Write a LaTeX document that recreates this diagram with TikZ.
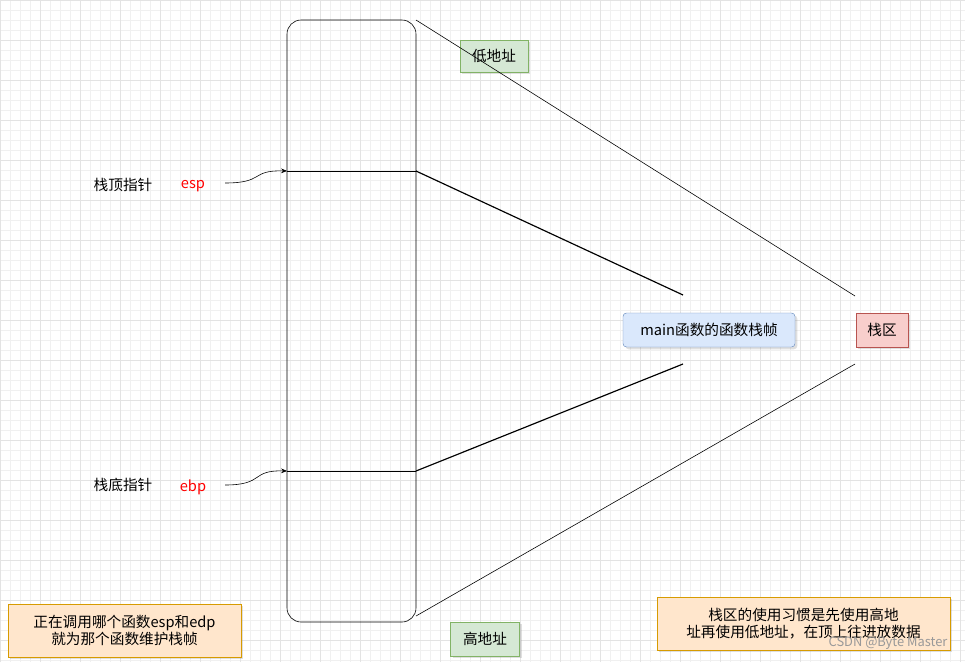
\documentclass[tikz,border=0pt]{standalone}
\usepackage{fontspec}
\setmainfont{Noto Sans CJK SC}
\newfontfamily\cjk{Noto Sans CJK SC}
\usetikzlibrary{shadows,arrows.meta}
\definecolor{gfill}{HTML}{D5E8D4}\definecolor{gline}{HTML}{82B366}
\definecolor{bfill}{HTML}{DAE8FC}\definecolor{bline}{HTML}{6C8EBF}
\definecolor{rfill}{HTML}{F8CECC}\definecolor{rline}{HTML}{B85450}
\definecolor{ofill}{HTML}{FFE6CC}\definecolor{oline}{HTML}{D79B00}
\definecolor{gridc}{HTML}{F0F0F0}
\tikzset{
  lbl/.style={draw=#1line,fill=#1fill,drop shadow={opacity=0.25,shadow xshift=2pt,shadow yshift=-2pt},inner sep=0pt,font=\cjk\fontsize{12.5}{15}\selectfont,align=center},
  txt/.style={font=\cjk\fontsize{12.5}{15}\selectfont},
  reg/.style={font=\itshape\fontsize{12.5}{15}\selectfont,text=red},
  ln/.style={draw=black,line width=0.5pt}
}
\begin{document}
\begin{tikzpicture}[x=0.03cm,y=-0.03cm]
\useasboundingbox (0,0) rectangle (965,662);
\fill[white] (0,0) rectangle (965,662);
\draw[gridc,line width=0.3pt,step=0.3cm] (0,0) grid (965,662);
\draw[gray!22,line width=0.4pt,step=1.2cm] (0,0) grid (965,662);
% stack
\draw[ln,rounded corners=12] (287,20) rectangle (416,622);
\coordinate (tl) at (416,20); \coordinate (bl) at (416,616);
\coordinate (esp) at (287,171); \coordinate (espr) at (416,171);
\coordinate (ebp) at (287,471); \coordinate (ebpr) at (416,471);
\draw[ln] (esp) -- (espr); \draw[ln] (ebp) -- (ebpr);
% labels
\node[lbl=g,minimum width=68*0.03cm,minimum height=32*0.03cm] (low) at (494,56) {低地址};
\node[lbl=g,minimum width=69*0.03cm,minimum height=34*0.03cm] (high) at (485,639) {高地址};
\node[lbl=b,rounded corners=3pt,minimum width=172*0.03cm,minimum height=34*0.03cm] (main) at (709,330) {main函数的函数栈帧};
\node[lbl=r,minimum width=52*0.03cm,minimum height=34*0.03cm] (zq) at (882,330) {栈区};
\coordinate (zqt) at (855,296); \coordinate (zqb) at (855,364);
\coordinate (mt) at (683,295); \coordinate (mb) at (683,364);
\draw[ln] (tl) -- (zqt); \draw[ln] (bl) -- (zqb);
\draw[ln,line width=1pt] (espr) -- (mt); \draw[ln,line width=1pt] (ebpr) -- (mb);
% pointers
\node[txt] (t1) at (123,185) {栈顶指针};
\node[reg] (r1) at (193,186) {esp};
\node[txt] (t2) at (123,485) {栈底指针};
\node[reg] (r2) at (193,487) {ebp};
\coordinate (a1) at (225,183); \coordinate (a2) at (225,485);
\draw[ln,-{Stealth[length=5pt,width=4pt]}] (a1) .. controls (265,183) and (250,170) .. (esp);
\draw[ln,-{Stealth[length=5pt,width=4pt]}] (a2) .. controls (265,485) and (250,470) .. (ebp);
% notes
\node[lbl=o,minimum width=233*0.03cm,minimum height=53*0.03cm] (n1) at (124.5,630.5) {正在调用哪个函数esp和edp\\就为那个函数维护栈帧};
\node[lbl=o,minimum width=293*0.03cm,minimum height=53*0.03cm] (n2) at (803.5,623.5) {栈区的使用习惯是先使用高地\\址再使用低地址，在顶上往进放数据};
\node[font=\fontsize{11}{13}\selectfont,text=gray!80] (wm) at (888,643) {CSDN @Byte Master};
\end{tikzpicture}
\end{document}
